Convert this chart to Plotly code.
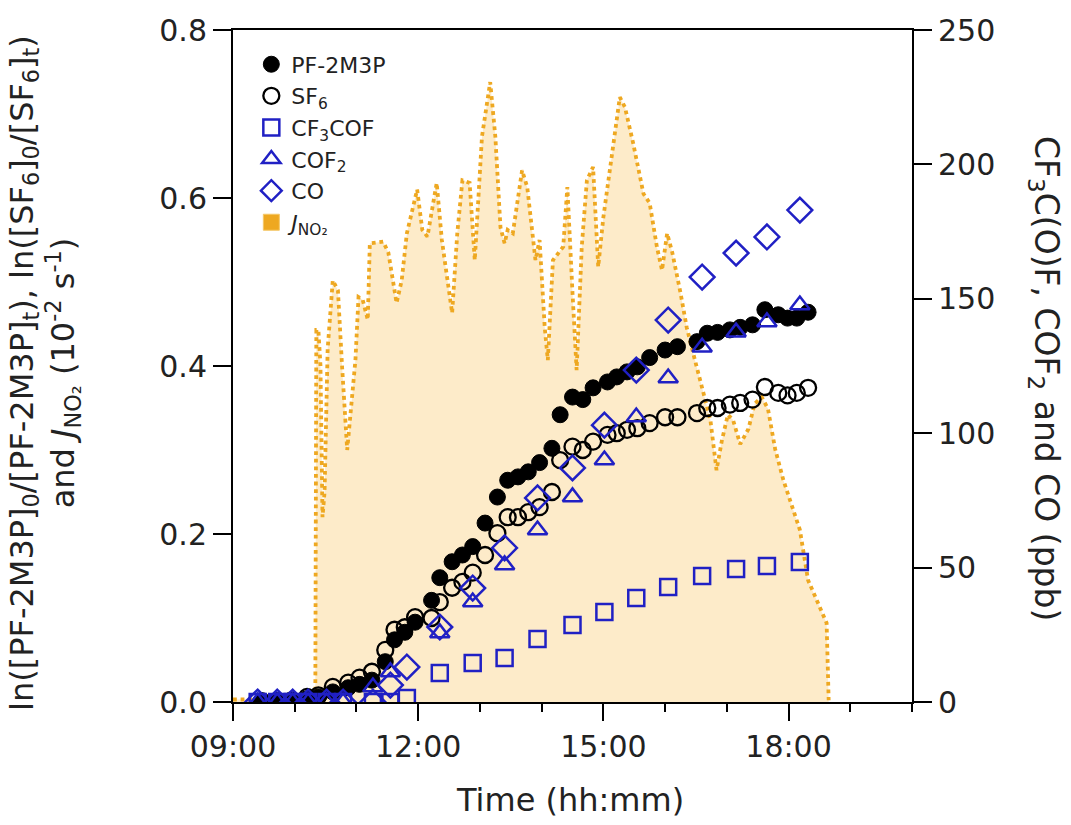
import plotly.graph_objects as go

DAY = "2024-01-01 "

# --- circle series (left axis) ---
circ_times = ["09:28", "09:43", "09:57", "10:12", "10:23", "10:37", "10:52", "11:03", "11:15", "11:28",
              "11:37", "11:47", "11:57", "12:13", "12:21", "12:33", "12:43", "12:53", "13:05", "13:17",
              "13:27", "13:37", "13:47", "13:58", "14:10", "14:18", "14:30", "14:40", "14:50", "15:04",
              "15:13", "15:23", "15:33", "15:45", "16:00", "16:12", "16:31", "16:41", "16:51", "17:03",
              "17:13", "17:25", "17:37", "17:50", "17:59", "18:08", "18:19"]
pf2m3p = [0.001, 0.001, 0.002, 0.004, 0.006, 0.012, 0.017, 0.021, 0.026, 0.048,
          0.074, 0.083, 0.095, 0.121, 0.148, 0.167, 0.175, 0.185, 0.213, 0.244,
          0.264, 0.268, 0.274, 0.285, 0.302, 0.342, 0.363, 0.360, 0.374, 0.381,
          0.387, 0.393, 0.399, 0.410, 0.419, 0.423, 0.429, 0.439, 0.440, 0.443,
          0.446, 0.449, 0.467, 0.461, 0.457, 0.457, 0.464]
sf6 = [0.001, 0.001, 0.002, 0.006, 0.008, 0.018, 0.023, 0.029, 0.036, 0.062,
       0.086, 0.089, 0.101, 0.100, 0.119, 0.136, 0.143, 0.154, 0.175, 0.201,
       0.220, 0.220, 0.226, 0.232, 0.250, 0.288, 0.304, 0.300, 0.310, 0.318,
       0.320, 0.324, 0.326, 0.332, 0.339, 0.339, 0.344, 0.350, 0.350, 0.354,
       0.356, 0.360, 0.375, 0.368, 0.365, 0.368, 0.374]

# --- FTIR products (right axis, ppb) ---
prod_times = ["09:24", "09:43", "09:58", "10:13", "10:31", "10:47", "11:16", "11:33", "11:49",
              "12:21", "12:53", "13:24", "13:56", "14:30", "15:01", "15:32", "16:03", "16:36",
              "17:09", "17:39", "18:11"]
cf3cof = [0, 0, 0, 0, 0, 0, 0, 0, 1.5,
          10.8, 14.5, 16.4, 23.4, 28.6, 33.5, 38.7, 42.8, 46.9, 49.5, 50.6, 52.1]
cof2 = [0, 0, 0, 0, 0, 0, 5.6, 11.2, None,
        25.7, 37.2, 51.0, 64.0, 76.3, 90.0, 106.0, 120.5, 132.0, 137.6, 141.4, 147.7]
co = [0, 0, 0, 0, 0, 0, 0, 6.3, 13.0,
      27.9, 42.4, 57.3, 75.9, 87.1, 103.0, 123.5, 142.1, 158.1, 167.0, 173.0, 183.0]

# --- J(NO2), 10^-2 s^-1 (left axis) ---
j_times = ["09:00", "10:20", "10:21", "10:23", "10:25", "10:27", "10:29", "10:32", "10:37", "10:42",
           "10:46", "10:51", "10:59", "11:02", "11:06", "11:11", "11:13", "11:26", "11:31", "11:39",
           "11:44", "11:49", "11:59", "12:04", "12:09", "12:18", "12:23", "12:33", "12:38", "12:43",
           "12:50", "12:55", "13:02", "13:10", "13:15", "13:20", "13:24", "13:27", "13:32", "13:41",
           "13:46", "13:49", "13:54", "13:58", "14:03", "14:06", "14:11", "14:21", "14:25", "14:30",
           "14:34", "14:39", "14:44", "14:50", "14:55", "15:00", "15:08", "15:16", "15:21", "15:29",
           "15:39", "15:45", "15:52", "15:57", "16:02", "16:07", "16:15", "16:21", "16:29", "16:37",
           "16:44", "16:50", "16:55", "17:01", "17:06", "17:13", "17:21", "17:27", "17:34", "17:40",
           "17:47", "17:55", "18:03", "18:11", "18:19", "18:26", "18:33", "18:37", "18:39"]
j_no2 = [0.003, 0.003, 0.443, 0.443, 0.401, 0.220, 0.250, 0.420, 0.502, 0.490,
         0.400, 0.300, 0.407, 0.482, 0.479, 0.455, 0.546, 0.548, 0.535, 0.475,
         0.502, 0.558, 0.610, 0.562, 0.554, 0.618, 0.550, 0.463, 0.558, 0.621,
         0.618, 0.526, 0.673, 0.738, 0.673, 0.565, 0.546, 0.562, 0.558, 0.633,
         0.613, 0.582, 0.526, 0.550, 0.446, 0.407, 0.526, 0.542, 0.613, 0.487,
         0.395, 0.542, 0.621, 0.637, 0.518, 0.577, 0.645, 0.720, 0.708, 0.665,
         0.605, 0.594, 0.542, 0.514, 0.558, 0.535, 0.487, 0.446, 0.407, 0.371,
         0.336, 0.276, 0.310, 0.342, 0.336, 0.307, 0.325, 0.355, 0.363, 0.349,
         0.301, 0.264, 0.235, 0.205, 0.145, 0.125, 0.106, 0.094, 0.002]

x_tick_vals = ["09:00", "12:00", "15:00", "18:00"]
x_range = ["09:00", "20:00"]

FONT = "DejaVu Sans"
BLUE = "#2020C4"
ORANGE = "#EEA821"
FILL = "#FDEBC9"

def d(ts):
    return [DAY + t for t in ts]

fig = go.Figure()

fig.add_trace(go.Scatter(
    x=d(j_times), y=j_no2, mode="lines", name="J_NO2", showlegend=False,
    line=dict(color=ORANGE, width=3.8, dash="dot"), fill="tozeroy", fillcolor=FILL,
    yaxis="y"))
# legend swatch for J(NO2)
fig.add_trace(go.Scatter(
    x=[None], y=[None], mode="markers", name="<i>J</i><sub>NO₂</sub>",
    marker=dict(symbol="square", size=17, color=ORANGE, line=dict(color="#F5C868", width=1)),
    legendrank=6, yaxis="y"))

fig.add_trace(go.Scatter(
    x=d(circ_times), y=pf2m3p, mode="markers", name="PF-2M3P",
    marker=dict(symbol="circle", size=16, color="black", line=dict(color="black", width=1)),
    legendrank=1, yaxis="y"))
fig.add_trace(go.Scatter(
    x=d(circ_times), y=sf6, mode="markers", name="SF<sub>6</sub>",
    marker=dict(symbol="circle-open", size=16, color="black", line=dict(width=2.3)),
    legendrank=2, yaxis="y"))

fig.add_trace(go.Scatter(
    x=d(prod_times), y=cf3cof, mode="markers", name="CF<sub>3</sub>COF",
    marker=dict(symbol="square-open", size=16, color=BLUE, line=dict(width=2.5)),
    legendrank=3, yaxis="y2"))
fig.add_trace(go.Scatter(
    x=d(prod_times), y=cof2, mode="markers", name="COF<sub>2</sub>",
    marker=dict(symbol="triangle-up-open", size=17, color=BLUE, line=dict(width=2.5)),
    legendrank=4, yaxis="y2"))
fig.add_trace(go.Scatter(
    x=d(prod_times), y=co, mode="markers", name="CO",
    marker=dict(symbol="diamond-open", size=19, color=BLUE, line=dict(width=2.5)),
    legendrank=5, yaxis="y2"))

axis_common = dict(showline=True, linecolor="black", linewidth=2, ticks="outside",
                   tickcolor="black", tickwidth=2, showgrid=False, zeroline=False,
                   tickfont=dict(family=FONT, size=30, color="#222"))

fig.update_layout(
    width=1071, height=825,
    margin=dict(l=233, r=159, t=30, b=123),
    plot_bgcolor="white", paper_bgcolor="white",
    font=dict(family=FONT, color="#222"),
    showlegend=True,
    legend=dict(x=0.027, y=0.98, xanchor="left", yanchor="top", bgcolor="rgba(0,0,0,0)",
                font=dict(family=FONT, size=22, color="#222"), tracegroupgap=0, itemwidth=30),
    xaxis=dict(type="date", range=[DAY + x_range[0], DAY + x_range[1]],
               tickvals=d(x_tick_vals), ticktext=x_tick_vals, ticklen=17, mirror=True,
               minor=dict(dtick=3600000, ticklen=8, ticks="outside", tickcolor="black", tickwidth=2,
                          showgrid=False),
               **axis_common),
    yaxis=dict(range=[0, 0.8], tickvals=[0, 0.2, 0.4, 0.6, 0.8],
               ticktext=["0.0", "0.2", "0.4", "0.6", "0.8"], ticklen=18, **axis_common),
    yaxis2=dict(range=[0, 250], tickvals=[0, 50, 100, 150, 200, 250], overlaying="y", side="right",
                ticklen=18, **axis_common),
)

fig.add_annotation(
    text="ln([PF-2M3P]<sub>0</sub>/[PF-2M3P]<sub>t</sub>), ln([SF<sub>6</sub>]<sub>0</sub>/[SF<sub>6</sub>]<sub>t</sub>)"
         "<br>and <i>J</i><sub>NO₂</sub> (10<sup>-2</sup> s<sup>-1</sup>)",
    xref="paper", yref="paper", x=-0.278, y=0.49, xanchor="center", yanchor="middle",
    textangle=-90, showarrow=False, font=dict(family=FONT, size=32, color="#222"))
fig.add_annotation(
    text="CF<sub>3</sub>C(O)F, COF<sub>2</sub> and CO (ppb)",
    xref="paper", yref="paper", x=1.196, y=0.482, xanchor="center", yanchor="middle",
    textangle=90, showarrow=False, font=dict(family=FONT, size=33, color="#222"))
fig.add_annotation(
    text="Time (hh:mm)", xref="paper", yref="paper", x=0.496, y=-0.146,
    xanchor="center", yanchor="middle", showarrow=False,
    font=dict(family=FONT, size=32, color="#222"))

fig.write_html("out.html", config={"displayModeBar": False},
               post_script="document.body.style.margin='0';document.body.style.overflow='hidden';")
